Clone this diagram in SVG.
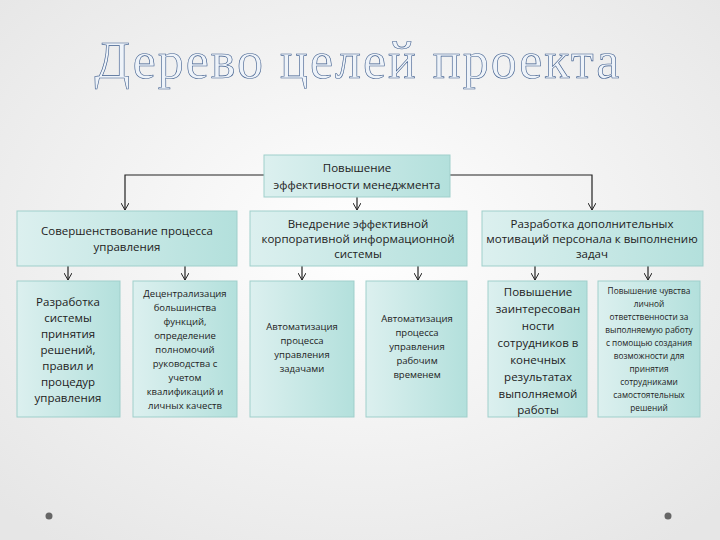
<svg xmlns="http://www.w3.org/2000/svg" width="720" height="540" viewBox="0 0 720 540">
<defs>
<radialGradient id="bg" cx="50%" cy="45%" r="70%"><stop offset="0" stop-color="#ffffff"/><stop offset="1" stop-color="#e6e6e6"/></radialGradient>
<linearGradient id="bx" x1="0" y1="0" x2="1" y2="0"><stop offset="0" stop-color="#dcf0ef"/><stop offset="1" stop-color="#b3e0dc"/></linearGradient>
<marker id="ar" markerWidth="8" markerHeight="8" refX="7" refY="4" orient="auto" markerUnits="userSpaceOnUse"><path d="M0,0 L7,4 L0,8" fill="none" stroke="#222" stroke-width="1"/></marker>
<style>
.b{fill:url(#bx);stroke:#9fcfcb;stroke-width:1}
.t{font-family:"Open Sans","DejaVu Sans",sans-serif;font-size:11.5px;fill:#222;text-anchor:middle}
.s{font-size:9.5px}
.x{font-size:8.3px}
.l{fill:none;stroke:#222;stroke-width:1.2}
</style>
</defs>
<rect width="720" height="540" fill="url(#bg)"/>
<text x="358" y="78" font-family="'Liberation Serif',serif" font-size="52" fill="#eef3f9" stroke="#3d5c8c" stroke-width="0.6" text-anchor="middle" letter-spacing="2">Дерево целей проекта</text>
<g id="connectors">
<path class="l" d="M264,175 H125 V210" marker-end="url(#ar)"/>
<path class="l" d="M450,175 H592 V210" marker-end="url(#ar)"/>
<path class="l" d="M357,197 V210" marker-end="url(#ar)"/>
<path class="l" d="M68,266 V280" marker-end="url(#ar)"/>
<path class="l" d="M185,266 V280" marker-end="url(#ar)"/>
<path class="l" d="M302,266 V280" marker-end="url(#ar)"/>
<path class="l" d="M418,266 V280" marker-end="url(#ar)"/>
<path class="l" d="M535,266 V280" marker-end="url(#ar)"/>
<path class="l" d="M648,266 V280" marker-end="url(#ar)"/>
</g>
<g id="root"><rect class="b" x="264" y="155" width="186" height="42"/><text class="t" x="357" y="172">Повышение</text><text class="t" x="357" y="189">эффективности менеджмента</text></g>
<g id="n1"><rect class="b" x="17" y="211" width="220" height="55"/><text class="t" x="127" y="235">Совершенствование процесса</text><text class="t" x="127" y="251">управления</text></g>
<g id="n2"><rect class="b" x="250" y="211" width="217" height="55"/><text class="t" x="358" y="228">Внедрение эффективной</text><text class="t" x="358" y="243">корпоративной информационной</text><text class="t" x="358" y="258">системы</text></g>
<g id="n3"><rect class="b" x="482" y="211" width="221" height="55"/><text class="t" x="592" y="228">Разработка дополнительных</text><text class="t" x="592" y="243">мотиваций персонала к выполнению</text><text class="t" x="592" y="258">задач</text></g>
<g id="l1"><rect class="b" x="17" y="281" width="103" height="136"/><text class="t" x="68" y="306">Разработка</text><text class="t" x="68" y="322">системы</text><text class="t" x="68" y="338">принятия</text><text class="t" x="68" y="354">решений,</text><text class="t" x="68" y="370">правил и</text><text class="t" x="68" y="386">процедур</text><text class="t" x="68" y="402">управления</text></g>
<g id="l2"><rect class="b" x="133" y="281" width="104" height="136"/><text class="t s" x="185" y="297">Децентрализация</text><text class="t s" x="185" y="311">большинства</text><text class="t s" x="185" y="325">функций,</text><text class="t s" x="185" y="339">определение</text><text class="t s" x="185" y="353">полномочий</text><text class="t s" x="185" y="367">руководства с</text><text class="t s" x="185" y="381">учетом</text><text class="t s" x="185" y="395">квалификаций и</text><text class="t s" x="185" y="409">личных качеств</text></g>
<g id="l3"><rect class="b" x="250" y="281" width="104" height="136"/><text class="t s" x="302" y="330">Автоматизация</text><text class="t s" x="302" y="344">процесса</text><text class="t s" x="302" y="358">управления</text><text class="t s" x="302" y="372">задачами</text></g>
<g id="l4"><rect class="b" x="366" y="281" width="101" height="136"/><text class="t s" x="417" y="322">Автоматизация</text><text class="t s" x="417" y="336">процесса</text><text class="t s" x="417" y="350">управления</text><text class="t s" x="417" y="364">рабочим</text><text class="t s" x="417" y="378">временем</text></g>
<g id="l5"><rect class="b" x="488" y="281" width="99" height="136"/><text class="t" x="538" y="296">Повышение</text><text class="t" x="538" y="313">заинтересован</text><text class="t" x="538" y="330">ности</text><text class="t" x="538" y="347">сотрудников в</text><text class="t" x="538" y="364">конечных</text><text class="t" x="538" y="381">результатах</text><text class="t" x="538" y="398">выполняемой</text><text class="t" x="538" y="414">работы</text></g>
<g id="l6"><rect class="b" x="598" y="281" width="102" height="136"/><text class="t x" x="649" y="294">Повышение чувства</text><text class="t x" x="649" y="307">личной</text><text class="t x" x="649" y="320">ответственности за</text><text class="t x" x="649" y="333">выполняемую работу</text><text class="t x" x="649" y="346">с помощью создания</text><text class="t x" x="649" y="359">возможности для</text><text class="t x" x="649" y="372">принятия</text><text class="t x" x="649" y="385">сотрудниками</text><text class="t x" x="649" y="398">самостоятельных</text><text class="t x" x="649" y="411">решений</text></g>
<circle cx="49" cy="516" r="3.5" fill="#666"/><circle cx="668" cy="516" r="3.5" fill="#666"/>
</svg>
